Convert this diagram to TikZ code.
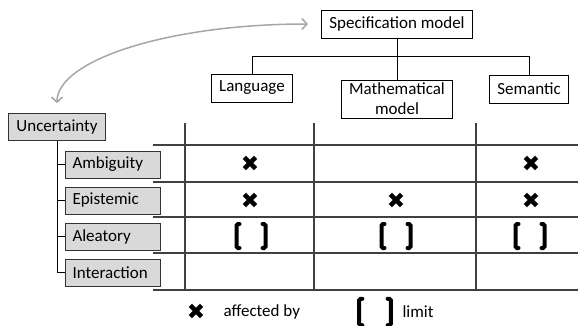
\documentclass[tikz,border=0pt]{standalone}
\usepackage{fontspec}
\setmainfont{Carlito}
\newfontfamily\symfont{DejaVu Sans}
\usetikzlibrary{arrows.meta}
\tikzset{sm/.style = {draw, thick, fill=white, minimum height=28pt, inner xsep=8pt, inner ysep=3pt, align=center},
           uc/.style = {draw=black!80, thick, fill=black!15, minimum height=27pt, inner xsep=8pt, inner ysep=0pt},
           ucs/.style = {uc, text width=81pt, inner xsep=7pt, align=left},
           grd/.style = {draw=black!75, line width=1.1pt},
           hit/.style = {inner sep=0pt, font=\symfont\fontsize{22}{22}\selectfont},
           limit/.pic = {\draw[line width=4pt, line cap=round, rounded corners=1.5pt]
                           (-11.5,-12) -- (-14.5,-12) -- (-14.5,12) -- (-11.5,12)
                           (11.5,-12) -- (14.5,-12) -- (14.5,12) -- (11.5,12);}}

\begin{document}
\begin{tikzpicture}[x=1pt, y=-1pt, >={Straight Barb[length=5pt,width=11pt]}, font=\fontsize{17}{20}\selectfont]
    \useasboundingbox (0,0) rectangle (578,325);
    % table
    \foreach \y in {145,182,217,253,290} \draw[grd] (153,\y) -- (578,\y);
    \foreach \x in {185,314,476} \draw[grd] (\x,123) -- (\x,290);
    % specification model
    \node[sm] (spec) at (397,24) {Specification model};
    \node[sm] (lang) at (252,88) {Language};
    \node[sm] (math) at (397,99) {Mathematical\\model};
    \node[sm] (sem)  at (529,89) {Semantic};
    \draw[thick] (spec.south) -- (math.north);
    \draw[thick] (spec.south) ++(0,18) coordinate (bar) -| (lang.north);
    \draw[thick] (bar) -| (sem.north);
    % uncertainty
    \node[uc]  (unc)   at (57,127)    {Uncertainty};
    \node[ucs] (amb)   at (113,164.5) {Ambiguity};
    \node[ucs] (epi)   at (113,200.5) {Epistemic};
    \node[ucs] (ale)   at (113,236.5) {Aleatory};
    \node[ucs] (inter) at (113,272.5) {Interaction};
    \draw[thick] (unc.south) |- (inter.west);
    \foreach \n in {amb,epi,ale} \draw[thick] (unc.south |- \n.west) -- (\n.west);
    \draw[<->, line width=1.5pt, black!35] ([yshift=10pt]unc.north) .. controls +(0,-43) and +(-139,0) .. ([xshift=-13pt]spec.west);
    % cells
    \node[hit] (a1) at (250,164) {✖};
    \node[hit] (a3) at (531,164) {✖};
    \node[hit] (e1) at (250,201) {✖};
    \node[hit] (e2) at (396,201) {✖};
    \node[hit] (e3) at (531,201) {✖};
    \pic at (251,236) {limit};
    \pic at (396,236) {limit};
    \pic at (530,236) {limit};
    % legend
    \node[hit] (kx) at (196,312) {✖};
    \node[anchor=west] (kxt) at (220,312) {affected by};
    \pic[scale=1.1] at (375,312) {limit};
    \node[anchor=west] (klt) at (399,312) {limit};
\end{tikzpicture}
\end{document}
